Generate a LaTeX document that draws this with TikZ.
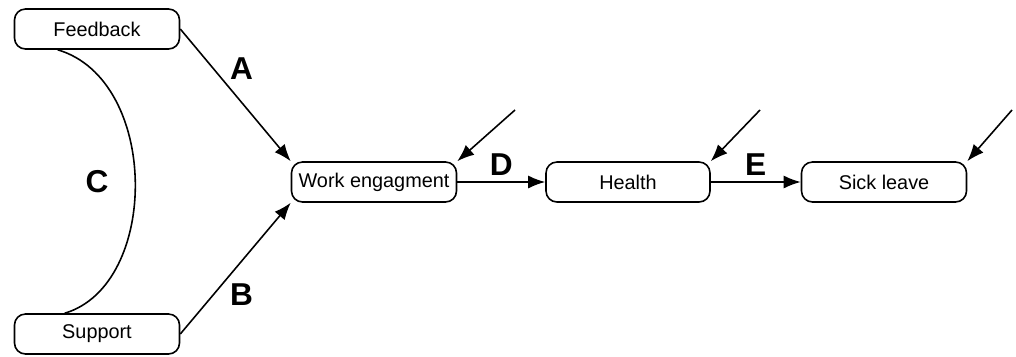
\documentclass[tikz,border=0pt]{standalone}
\usepackage{fontspec}
\setmainfont{Liberation Sans}
\usepackage{tikz}
\usetikzlibrary{arrows.meta}

\begin{document}
\begin{tikzpicture}[
  >={Latex[length=3.4mm,width=2.6mm]},
  line width=.9pt,
  varbox/.style={draw,rounded corners=.22cm,align=center,minimum width=3.3cm,
                 minimum height=.8cm,font=\fontsize{11.3}{13}\selectfont},
  pathlabel/.style={font=\fontsize{18}{20}\selectfont\bfseries}
]
 \useasboundingbox (0,0) rectangle (20.32,7.12);
 \node[varbox] (fb) at (1.94,6.54) {Feedback};
 \node[varbox] (sup) at (1.94,.44) {Support};
 \node[varbox] (we) at (7.48,3.48) {Work engagment};
 \node[varbox,minimum width=3.28cm] (hl) at (12.56,3.48) {Health};
 \node[varbox] (sl) at (17.68,3.48) {Sick leave};
 \coordinate (errwe) at (10.3,4.92);
 \coordinate (errhl) at (15.2,4.92);
 \coordinate (errsl) at (20.24,4.92);
 \draw[->] (fb.east) --
   node[pos=.3,right=2mm,pathlabel] {A} (we.north west);
 \draw[->] (sup.east) --
   node[pos=.3,right=2mm,pathlabel] {B} (we.south west);
 \draw ([xshift=.88cm]fb.south west) .. controls (3.2,5.52) and (3.2,1.42) ..
   ([xshift=1.02cm]sup.north west);
 \node[pathlabel] (c) at (1.94,3.48) {C};
 \draw[->] (we.east) -- node[midway,above,pathlabel] {D} (hl.west);
 \draw[->] (hl.east) -- node[midway,above,pathlabel] {E} (sl.west);
 \draw[->] (errwe) -- (we.north east);
 \draw[->] (errhl) -- (hl.north east);
 \draw[->] (errsl) -- (sl.north east);
\end{tikzpicture}
\end{document}
